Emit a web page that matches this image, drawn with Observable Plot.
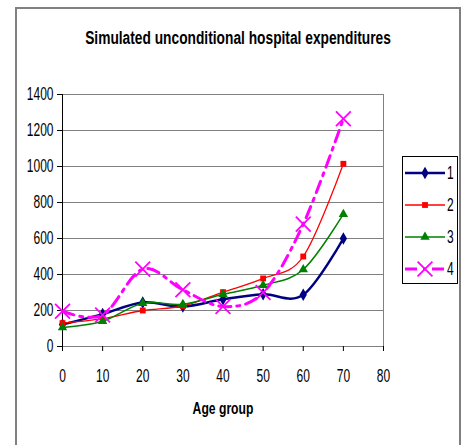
<!DOCTYPE html>
<html><head><meta charset="utf-8">
<script src="https://cdn.jsdelivr.net/npm/d3@7"></script>
<script src="https://cdn.jsdelivr.net/npm/@observablehq/plot@0.6"></script>
<style>
body{margin:0;background:#fff;}
#wrap{position:relative;width:465px;height:445px;overflow:hidden;font-family:"Liberation Sans",Arial,sans-serif;}
#frame{position:absolute;left:15px;top:7px;width:446px;height:470px;border:2px solid #808080;box-sizing:border-box;}
#chart{position:absolute;left:0;top:0;}
#legend{position:absolute;left:402px;top:156px;}
</style></head><body>
<div id="wrap"><div id="frame"></div><div id="chart"></div><svg id="legend" width="56" height="128"></svg></div>
<script>
const title = "Simulated unconditional hospital expenditures";
const xLabel = "Age group";
const ages = [0, 10, 20, 30, 40, 50, 60, 70];
const seriesNames = ["1", "2", "3", "4"];
const s1 = [122, 180, 245, 222, 262, 290, 287, 600];
const s2 = [130, 155, 200, 225, 302, 378, 500, 1015];
const s3 = [105, 140, 240, 235, 290, 340, 428, 735];
const s4 = [196, 175, 430, 315, 222, 300, 680, 1265];
const xTicks = [0, 10, 20, 30, 40, 50, 60, 70, 80];
const yTicks = [0, 200, 400, 600, 800, 1000, 1200, 1400];

const colors = ["#000080", "#FF0000", "#008000", "#FF00FF"];
const symbols = ["diamond", "square", "triangle", "times"];
const widths = [2.5, 1.3, 1.5, 3];
const dashes = [null, null, null, "12,6,3,6"];
const radii = [3.8, 3.3, 3.5, 6.8];
const FONT = "'Liberation Sans',Arial,sans-serif";

const values = [s1, s2, s3, s4];
const data = seriesNames.flatMap((s, i) => ages.map((a, j) => ({series: s, i, age: a, value: values[i][j]})));

const marks = [
  Plot.gridY(yTicks, {stroke: "#808080", strokeOpacity: 1}),
  Plot.frame({stroke: "#808080"}),
  Plot.ruleY([0], {stroke: "#808080"}),
  Plot.ruleX([0], {stroke: "#000"}),
  Plot.axisY(yTicks, {tickSize: 5, tickPadding: 4, fontSize: 16, label: null, tickFormat: d3.format("d"), className: "tk"}),
  Plot.axisX(xTicks, {tickSize: 5, tickPadding: 17, fontSize: 16, label: null, tickFormat: d3.format("d"), className: "tk"}),
];
seriesNames.forEach((s, i) => {
  const d = data.filter(r => r.series === s);
  marks.push(Plot.line(d, {x: "age", y: "value", stroke: colors[i], strokeWidth: widths[i], curve: "cardinal", tension: 0, strokeDasharray: dashes[i] || undefined}));
});
seriesNames.forEach((s, i) => {
  const d = data.filter(r => r.series === s);
  const opts = {x: "age", y: "value", symbol: () => symbols[i], r: radii[i]};
  if (symbols[i] === "times") { opts.stroke = colors[i]; opts.strokeWidth = 1.8; opts.fill = "none"; }
  else { opts.fill = colors[i]; opts.stroke = "none"; }
  marks.push(Plot.dot(d, opts));
});
marks.push(Plot.text([title], {frameAnchor: "top", dx: 15, dy: -63, fontSize: 16, fontWeight: "bold", text: d => d, className: "ttl"}));
marks.push(Plot.text([xLabel], {frameAnchor: "bottom", dy: 67, fontSize: 16, fontWeight: "bold", text: d => d, className: "xl"}));

const chart = Plot.plot({
  width: 465, height: 445,
  marginLeft: 62, marginRight: 82, marginTop: 94, marginBottom: 99,
  x: {domain: [0, 80]},
  y: {domain: [0, 1400]},
  symbol: {type: "identity"},
  style: {fontFamily: FONT, fontSize: "16px", color: "#000", background: "transparent", overflow: "visible"},
  marks
});
document.getElementById("chart").appendChild(chart);

// condense glyphs (the reference uses a narrow, tall face)
function condense(sel, sx, sy) {
  d3.select(chart).selectAll(sel).each(function () {
    const t = this.getAttribute("transform");
    if (t) this.setAttribute("transform", t + ` scale(${sx},${sy})`);
    else {
      const x = +this.getAttribute("x") || 0, y = +this.getAttribute("y") || 0;
      this.removeAttribute("x"); this.removeAttribute("y");
      this.setAttribute("transform", `translate(${x},${y}) scale(${sx},${sy})`);
    }
  });
}
condense(".tk text", 0.75, 1.15);
condense(".ttl text", 0.86, 1.12);
condense(".xl text", 0.76, 1.08);

// Legend
const lg = d3.select("#legend");
lg.append("rect").attr("x", 0.5).attr("y", 0.5).attr("width", 55).attr("height", 127).attr("fill", "#fff").attr("stroke", "#000");
const symMap = {diamond: d3.symbolDiamond, square: d3.symbolSquare, triangle: d3.symbolTriangle, times: d3.symbolTimes};
seriesNames.forEach((s, i) => {
  const y = 17 + 32 * i;
  const g = lg.append("g");
  g.append("line").attr("x1", 3).attr("x2", 43).attr("y1", y).attr("y2", y)
    .attr("stroke", colors[i]).attr("stroke-width", widths[i]).attr("stroke-dasharray", dashes[i]);
  const p = g.append("path").attr("transform", `translate(23,${y})`)
    .attr("d", d3.symbol(symMap[symbols[i]], Math.PI * radii[i] * radii[i])());
  if (symbols[i] === "times") p.attr("stroke", colors[i]).attr("stroke-width", 1.8).attr("fill", "none");
  else p.attr("fill", colors[i]);
  g.append("text").attr("transform", `translate(45,${y}) scale(0.75,1.15)`).attr("dy", "0.35em").attr("font-size", 16)
    .attr("font-family", FONT).text(s);
});
</script>
</body></html>
